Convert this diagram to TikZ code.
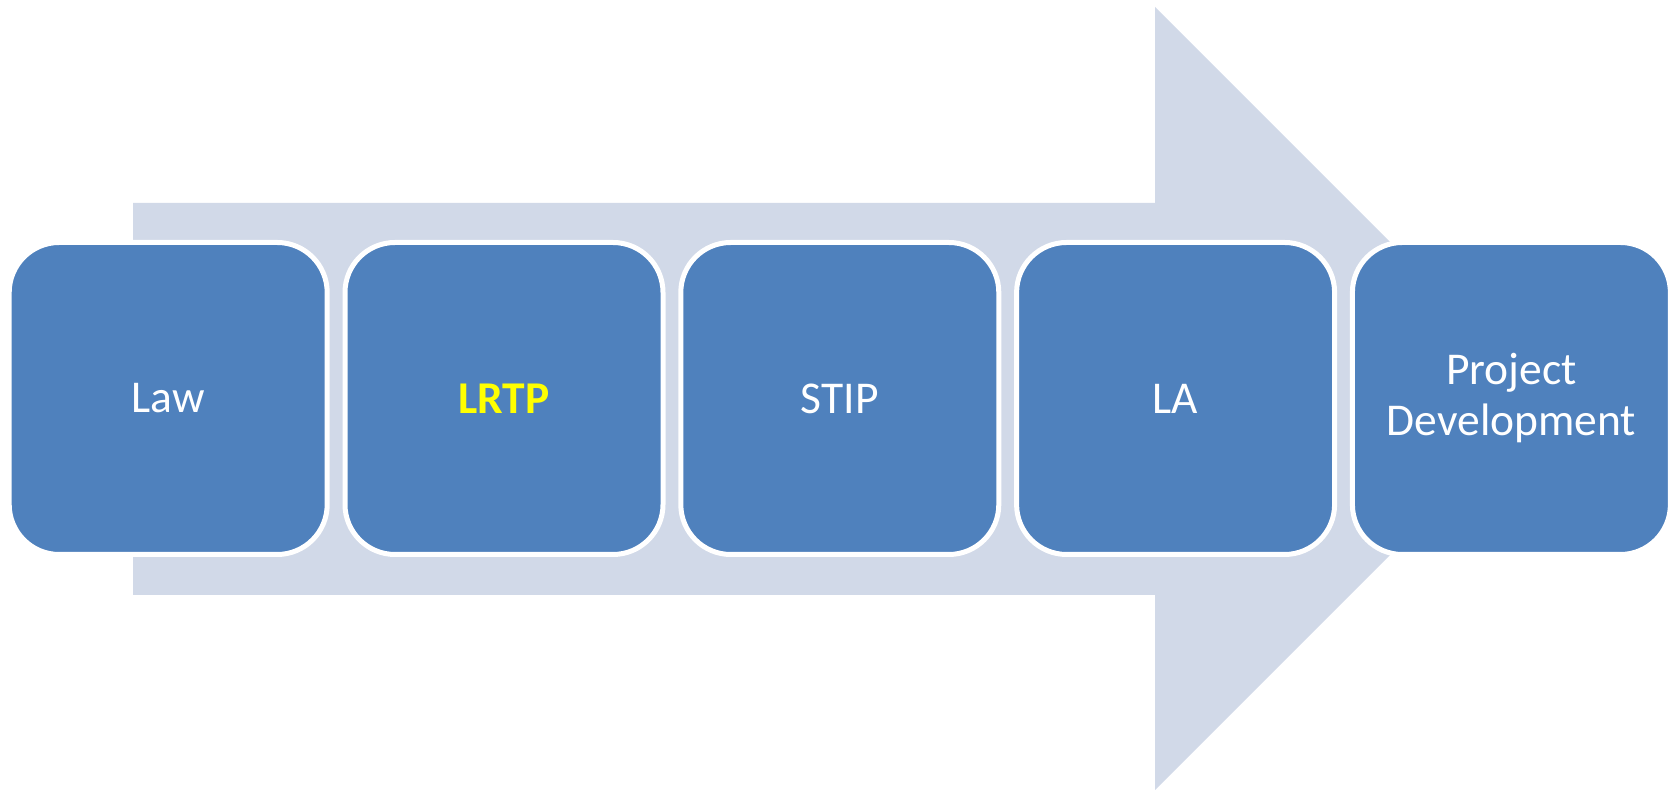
\documentclass[tikz,border=0pt]{standalone}
\usepackage{fontspec}
\setmainfont{Carlito}
\definecolor{boxblue}{HTML}{4F81BD}
\definecolor{arrowgray}{HTML}{D1D9E8}
\definecolor{ltyellow}{HTML}{FFFF00}
\begin{document}
\begin{tikzpicture}[x=1pt,y=1pt,
  stepbox/.style={rounded corners=50pt, fill=boxblue, draw=white, line width=5pt,
    minimum width=318pt, minimum height=312pt, inner sep=0pt, text=white,
    align=center, font=\fontsize{45.5}{51}\selectfont}]
\useasboundingbox (0,0) rectangle (1674,791);
% big background arrow
\fill[arrowgray] (133,{791-203}) -- (1155,{791-203}) -- (1155,{791-7}) -- (1546.5,{791-398.5})
  -- (1155,{791-790}) -- (1155,{791-595}) -- (133,{791-595}) -- cycle;
% boxes
\node[stepbox] (b1) at (168.2,392.5) {Law};
\node[stepbox] (b2) at (504.0,392.5) {\textcolor{ltyellow}{\bfseries LRTP}};
\node[stepbox] (b3) at (839.8,392.5) {STIP};
\node[stepbox] (b4) at (1175.6,392.5) {LA};
\node[stepbox] (b5) at (1511.4,392.5) {Project\\Development};
\end{tikzpicture}
\end{document}
